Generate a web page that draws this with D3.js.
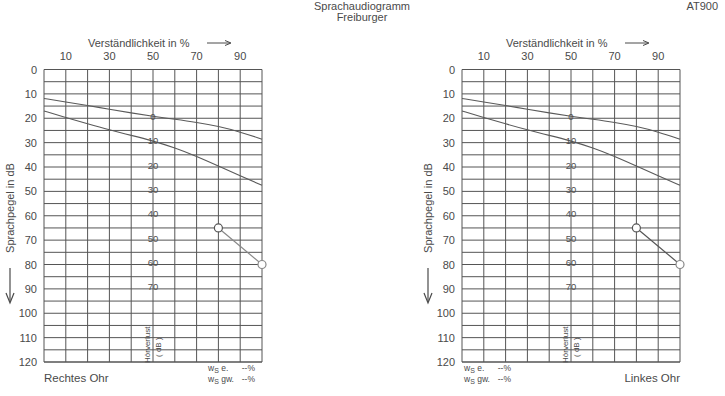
<!DOCTYPE html>
<html>
<head>
<meta charset="utf-8">
<script src="https://cdn.jsdelivr.net/npm/d3@7"></script>
<style>
  body { margin: 0; background: #fff; }
  svg { display: block; font-family: "Liberation Sans", Arial, sans-serif; }
</style>
</head>
<body>
<div id="chart"></div>
<script>
// Sprachaudiogramm (Freiburger) - two panels, right and left ear

const pctTicks = [10, 30, 50, 70, 90];
const dbTicks = [0, 10, 20, 30, 40, 50, 60, 70, 80, 90, 100, 110, 120];
const hvLabels = [0, 10, 20, 30, 40, 50, 60, 70];

// normal curves: x = Verständlichkeit %, y = dB
const curvePct = [0, 10, 20, 30, 40, 50, 60, 70, 80, 90, 100];
const upperCurveDb = [11.9, 13.3, 14.8, 16.3, 17.8, 19.2, 20.4, 21.7, 23.3, 25.6, 28.6];
const lowerCurveDb = [17, 19.7, 22.3, 24.8, 27, 29.3, 32.1, 35.6, 39.6, 43.6, 47.5];

// measured points per ear
const rightEarPct = [80, 100];
const rightEarDb = [65, 80];
const leftEarPct = [80, 100];
const leftEarDb = [65, 80];

const width = 725, height = 396;
const svg = d3.select("#chart").append("svg")
    .attr("width", width)
    .attr("height", height);

const textCol = "#4a4a4a";
const gridCol = "#555";

// header
svg.append("text").attr("x", 362).attr("y", 10).attr("text-anchor", "middle")
    .attr("font-size", 11).attr("fill", textCol).text("Sprachaudiogramm");
svg.append("text").attr("x", 362).attr("y", 21).attr("text-anchor", "middle")
    .attr("font-size", 11).attr("fill", textCol).text("Freiburger");
svg.append("text").attr("x", 718).attr("y", 10).attr("text-anchor", "end")
    .attr("font-size", 11).attr("fill", textCol).text("AT900");

function drawPanel(x0, earLabel, ptsPct, ptsDb, isLeftEar) {
    const g = svg.append("g");
    const x = d3.scaleLinear().domain([0, 100]).range([x0, x0 + 218]);
    const y = d3.scaleLinear().domain([0, 120]).range([69.5, 362]);

    // grid
    g.selectAll("line.v").data(d3.range(0, 101, 10)).enter().append("line")
        .attr("x1", d => x(d)).attr("x2", d => x(d))
        .attr("y1", y(0)).attr("y2", y(120))
        .attr("stroke", gridCol).attr("stroke-width", 1);
    g.selectAll("line.h").data(d3.range(0, 121, 5)).enter().append("line")
        .attr("x1", x(0)).attr("x2", x(100))
        .attr("y1", d => y(d)).attr("y2", d => y(d))
        .attr("stroke", gridCol).attr("stroke-width", d => d === 120 ? 1.6 : 1);

    // top axis
    g.selectAll("text.pt").data(pctTicks).enter().append("text")
        .attr("x", d => x(d)).attr("y", 60).attr("text-anchor", "middle")
        .attr("font-size", 11).attr("fill", textCol).text(d => d);
    g.append("text").attr("x", x(0) + 44).attr("y", 47)
        .attr("font-size", 11).attr("fill", textCol).text("Verständlichkeit in %");
    g.append("line").attr("x1", x(0) + 163).attr("x2", x(0) + 186)
        .attr("y1", 43).attr("y2", 43).attr("stroke", textCol).attr("stroke-width", 1);
    g.append("path").attr("d", `M${x(0) + 181},40.5 L${x(0) + 187},43 L${x(0) + 181},45.5`)
        .attr("fill", "none").attr("stroke", textCol).attr("stroke-width", 1);

    // left axis
    g.selectAll("text.db").data(dbTicks).enter().append("text")
        .attr("x", x(0) - 7).attr("y", d => y(d) + 4).attr("text-anchor", "end")
        .attr("font-size", 11).attr("fill", textCol).text(d => d);
    const ty = x(0) - 34;
    g.append("text").attr("transform", `translate(${ty + 4},208) rotate(-90)`)
        .attr("text-anchor", "middle").attr("font-size", 11).attr("fill", textCol)
        .text("Sprachpegel in dB");
    g.append("line").attr("x1", ty).attr("x2", ty).attr("y1", 268).attr("y2", 302)
        .attr("stroke", textCol).attr("stroke-width", 1.2);
    g.append("path").attr("d", `M${ty - 4},293 L${ty},303 L${ty + 4},293`)
        .attr("fill", "none").attr("stroke", textCol).attr("stroke-width", 1.2);

    // normal curves
    const line = d3.line().x(d => x(d[0])).y(d => y(d[1])).curve(d3.curveBasis);
    [upperCurveDb, lowerCurveDb].forEach(c => {
        g.append("path").datum(curvePct.map((p, i) => [p, c[i]]))
            .attr("d", line).attr("fill", "none")
            .attr("stroke", "#5a5a5a").attr("stroke-width", 1.1);
    });

    // Hörverlust labels along 50 %
    const hvBase = upperCurveDb[curvePct.indexOf(50)];
    g.selectAll("text.hv").data(hvLabels).enter().append("text")
        .attr("x", x(50)).attr("y", d => y(hvBase + d) + 3.5).attr("text-anchor", "middle")
        .attr("font-size", 9.5).attr("fill", "#505050").text(d => d);
    g.append("text").attr("transform", `translate(${x(50) - 3},363) rotate(-90)`)
        .attr("font-size", 8).attr("fill", textCol).text("Hörverlust");
    g.append("text").attr("transform", `translate(${x(50) + 8},357) rotate(-90)`)
        .attr("font-size", 8).attr("fill", textCol).text("( dB )");

    // measured points
    const pts = ptsPct.map((p, i) => [p, ptsDb[i]]);
    g.append("path").datum(pts).attr("d", d3.line().x(d => x(d[0])).y(d => y(d[1])))
        .attr("fill", "none").attr("stroke", isLeftEar ? "#555" : "#888").attr("stroke-width", 1.2);
    g.selectAll("circle.pt").data(pts).enter().append("circle")
        .attr("cx", d => x(d[0])).attr("cy", d => y(d[1])).attr("r", 4)
        .attr("fill", "#fff").attr("stroke", (d, i) => i === 0 ? "#555" : "#888").attr("stroke-width", 1.2);

    // ws labels
    const wx = isLeftEar ? x(0) + 2 : x(0) + 164;
    [["e.", 371], ["gw.", 382]].forEach(([t, yy]) => {
        const tx = g.append("text").attr("x", wx).attr("y", yy)
            .attr("font-size", 8.5).attr("fill", textCol);
        tx.append("tspan").text("w");
        tx.append("tspan").attr("dy", 2).attr("font-size", 7).text("S");
        tx.append("tspan").attr("dy", -2).text(" " + t);
        g.append("text").attr("x", wx + 47).attr("y", yy).attr("text-anchor", "end")
            .attr("font-size", 8.5).attr("fill", textCol).text("--%");
    });

    // ear label
    g.append("text")
        .attr("x", isLeftEar ? x(100) : x(0))
        .attr("y", 382)
        .attr("text-anchor", isLeftEar ? "end" : "start")
        .attr("font-size", 11.5).attr("fill", textCol).text(earLabel);
}

drawPanel(44, "Rechtes Ohr", rightEarPct, rightEarDb, false);
drawPanel(462, "Linkes Ohr", leftEarPct, leftEarDb, true);
</script>
</body>
</html>
